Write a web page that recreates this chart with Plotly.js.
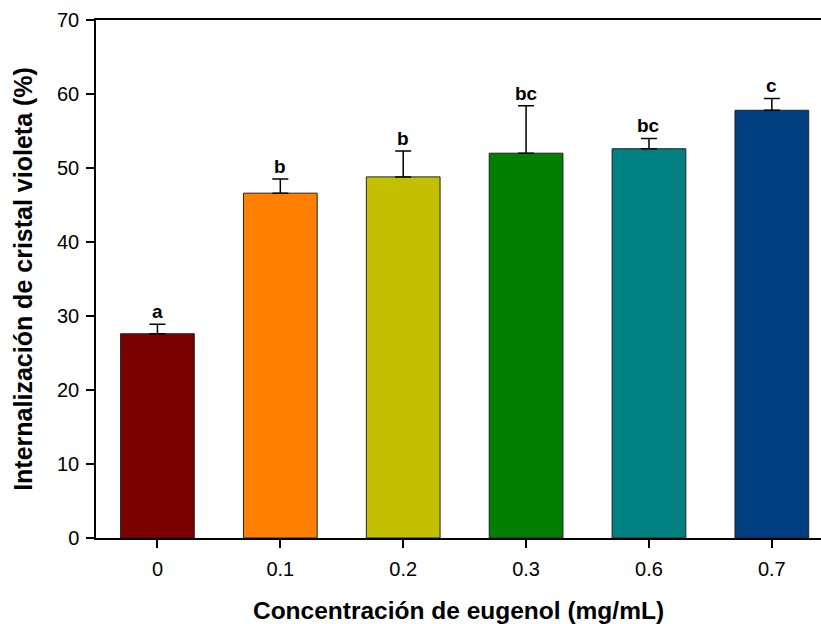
<!DOCTYPE html>
<html>
<head>
<meta charset="utf-8">
<script src="https://cdn.plot.ly/plotly-3.0.1.min.js"></script>
<style>html,body{margin:0;padding:0;background:#fff;}#chart{width:821px;height:624px;}</style>
</head>
<body>
<div id="chart"></div>
<script>
const categories = ["0", "0.1", "0.2", "0.3", "0.6", "0.7"];
const values = [27.6, 46.6, 48.8, 52.0, 52.6, 57.8];
const errors = [1.3, 1.9, 3.5, 6.4, 1.4, 1.6];
const letters = ["a", "b", "b", "bc", "bc", "c"];
const colors = ["#7B0000", "#FF7F00", "#C2C000", "#007F00", "#008080", "#003F7F"];

const FONT = "Liberation Sans, Arial, sans-serif";

const trace = {
  type: "bar",
  x: categories,
  y: values,
  width: 0.6,
  marker: { color: colors, line: { color: "#222", width: 1 } },
  error_y: {
    type: "data",
    array: errors,
    arrayminus: errors.map(() => 0),
    symmetric: false,
    color: "#000",
    thickness: 1.5,
    width: 8
  },
  hoverinfo: "x+y"
};

const annotations = categories.map((c, i) => ({
  x: i,
  y: values[i] + errors[i],
  xref: "x",
  yref: "y",
  text: "<b>" + letters[i] + "</b>",
  showarrow: false,
  yanchor: "bottom",
  yshift: 0,
  font: { family: FONT, size: 19, color: "#000" }
}));

const layout = {
  width: 821,
  height: 624,
  margin: { l: 96, r: 0, t: 20, b: 86 },
  paper_bgcolor: "#fff",
  plot_bgcolor: "#fff",
  showlegend: false,
  font: { family: FONT, color: "#000" },
  xaxis: {
    type: "category",
    range: [-0.5, 5.4],
    showline: true,
    linecolor: "#000",
    linewidth: 1.5,
    mirror: true,
    ticks: "outside",
    ticklen: 8,
    tickwidth: 1.5,
    tickcolor: "#000",
    ticklabelstandoff: 4,
    tickfont: { family: FONT, size: 20, color: "#000" },
    showgrid: false,
    zeroline: false,
    title: { text: "<b>Concentración de eugenol (mg/mL)</b>", font: { family: FONT, size: 24.5, color: "#000" }, standoff: 23 }
  },
  yaxis: {
    range: [0, 70],
    tickvals: [0, 10, 20, 30, 40, 50, 60, 70],
    showline: true,
    linecolor: "#000",
    linewidth: 1.5,
    ticks: "outside",
    ticklen: 8,
    tickwidth: 1.5,
    tickcolor: "#000",
    ticklabelstandoff: 3,
    tickfont: { family: FONT, size: 20, color: "#000" },
    showgrid: false,
    zeroline: false,
    title: { text: "<b>Internalización de cristal violeta (%)</b>", font: { family: FONT, size: 25, color: "#000" }, standoff: 17 }
  },
  annotations: annotations
};

Plotly.newPlot("chart", [trace], layout, { displayModeBar: false, responsive: false });
</script>
</body>
</html>
